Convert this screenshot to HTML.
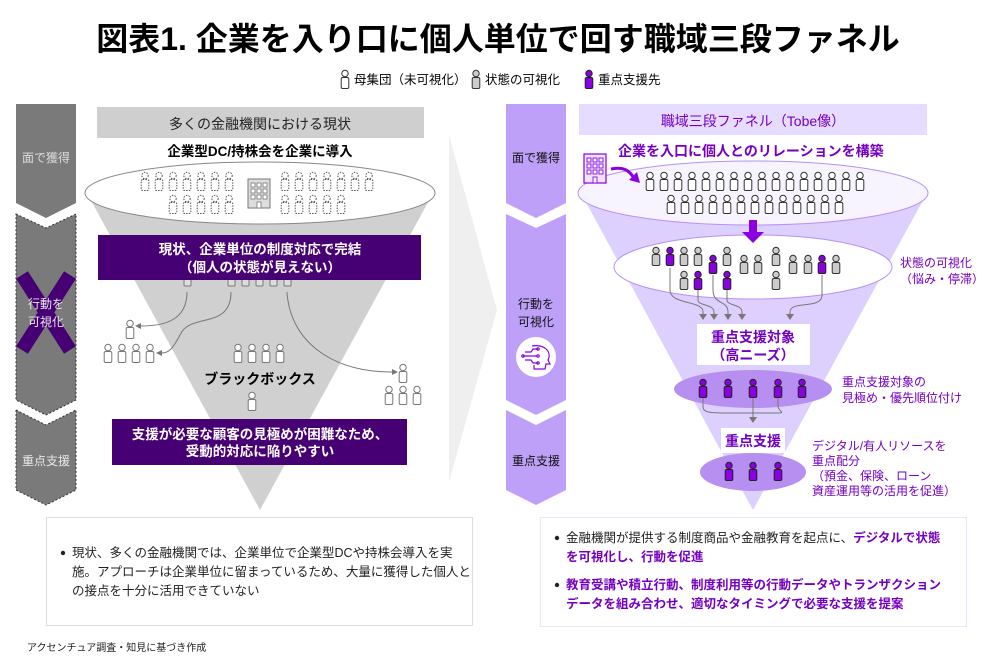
<!DOCTYPE html>
<html><head><meta charset="utf-8"><style>
body{margin:0;background:#fff;}
svg text{font-family:"Liberation Sans","Noto Sans CJK JP",sans-serif;}
</style></head><body>
<svg width="997" height="664" viewBox="0 0 997 664" xmlns="http://www.w3.org/2000/svg">
<defs>
<g id="pd"><circle cx="0" cy="3.5" r="3.2" fill="#fff" stroke="#555" stroke-width="1" stroke-dasharray="1.5 1.2"/><rect x="-3.8" y="7.5" width="7.6" height="11" rx="1.5" fill="#fff" stroke="#555" stroke-width="1" stroke-dasharray="1.5 1.2"/></g>
<g id="pw"><circle cx="0" cy="3.5" r="3.2" fill="#fff" stroke="#333" stroke-width="1"/><rect x="-3.8" y="7.5" width="7.6" height="11" rx="1.5" fill="#fff" stroke="#333" stroke-width="1"/></g>
<g id="pl"><circle cx="0" cy="3.5" r="3.2" fill="#fff" stroke="#777" stroke-width="1"/><rect x="-3.8" y="7.5" width="7.6" height="11" rx="1.5" fill="#fff" stroke="#777" stroke-width="1"/></g>
<g id="pg"><circle cx="0" cy="3.5" r="3.2" fill="#ccc" stroke="#333" stroke-width="1"/><rect x="-3.8" y="7.5" width="7.6" height="11" rx="1.5" fill="#ccc" stroke="#333" stroke-width="1"/></g>
<g id="pp"><circle cx="0" cy="3.5" r="3.2" fill="#8a00e0" stroke="#222" stroke-width="1"/><rect x="-3.8" y="7.5" width="7.6" height="11" rx="1.5" fill="#8a00e0" stroke="#222" stroke-width="1"/></g>
<marker id="ag" markerWidth="8" markerHeight="8" refX="2" refY="4" orient="auto" markerUnits="userSpaceOnUse"><path d="M0,0 L6,4 L0,8z" fill="#777"/></marker>
</defs>

<text x="498" y="50" font-size="32" font-weight="bold" text-anchor="middle" fill="#000">図表1. 企業を入り口に個人単位で回す職域三段ファネル</text>
<g transform="translate(345,70)"><use href="#pw"/></g>
<text x="354" y="84" font-size="12.5" fill="#000">母集団（未可視化）</text>
<g transform="translate(476,70)"><use href="#pg"/></g>
<text x="485" y="84" font-size="12.5" fill="#000">状態の可視化</text>
<g transform="translate(589,70)"><use href="#pp"/></g>
<text x="598" y="84" font-size="12.5" fill="#000">重点支援先</text>

<path d="M449,135 L497,310 L449,482 Z" fill="#efefef"/>

<path d="M16,104 L76,104 L76,203 L46,218 L16,203 Z" fill="#7a7a7a"/>
<path d="M16,214 L46,228 L76,214 L76,400 L46,415 L16,400 Z" fill="#7a7a7a" stroke="#333" stroke-dasharray="2 2"/>
<path d="M16,410 L46,425 L76,410 L76,490 L46,505 L16,490 Z" fill="#7a7a7a" stroke="#333" stroke-dasharray="2 2"/>
<path d="M22,275 L70,350 M70,275 L22,350" stroke="#460073" stroke-width="14"/>
<text x="46" y="162" font-size="12" fill="#ddd" text-anchor="middle">面で獲得</text>
<text x="46" y="308" font-size="12" fill="#e8e8e8" text-anchor="middle">行動を</text>
<text x="46" y="326" font-size="12" fill="#e8e8e8" text-anchor="middle">可視化</text>
<text x="46" y="465" font-size="12" fill="#e8e8e8" text-anchor="middle">重点支援</text>

<rect x="97" y="107" width="327" height="31" fill="#cfcfcf"/>
<text x="260" y="129" font-size="14" text-anchor="middle" fill="#222">多くの金融機関における現状</text>
<text x="260" y="156" font-size="13.5" font-weight="bold" text-anchor="middle" fill="#000">企業型DC/持株会を企業に導入</text>

<path d="M88,195 L432,195 L260,510 Z" fill="#d0d0d0"/>
<ellipse cx="260" cy="193" rx="175" ry="31" fill="#fff" stroke="#888" stroke-width="1"/>
<g>
<use href="#pd" x="145" y="172"/><use href="#pd" x="159" y="172"/><use href="#pd" x="173" y="172"/><use href="#pd" x="187" y="172"/><use href="#pd" x="201" y="172"/><use href="#pd" x="215" y="172"/><use href="#pd" x="229" y="172"/>
<use href="#pd" x="285" y="172"/><use href="#pd" x="299" y="172"/><use href="#pd" x="313" y="172"/><use href="#pd" x="327" y="172"/><use href="#pd" x="341" y="172"/><use href="#pd" x="355" y="172"/><use href="#pd" x="369" y="172"/>
<use href="#pd" x="173" y="195"/><use href="#pd" x="187" y="195"/><use href="#pd" x="201" y="195"/><use href="#pd" x="215" y="195"/><use href="#pd" x="229" y="195"/>
<use href="#pd" x="285" y="195"/><use href="#pd" x="299" y="195"/><use href="#pd" x="313" y="195"/><use href="#pd" x="327" y="195"/><use href="#pd" x="341" y="195"/>
</g>
<g stroke="#777" fill="#ddd"><rect x="248" y="179" width="22" height="29"/>
<g fill="#fff" stroke="#777" stroke-width="0.8"><rect x="251" y="183" width="4" height="4"/><rect x="257" y="183" width="4" height="4"/><rect x="263" y="183" width="4" height="4"/><rect x="251" y="189" width="4" height="4"/><rect x="257" y="189" width="4" height="4"/><rect x="263" y="189" width="4" height="4"/><rect x="251" y="195" width="4" height="4"/><rect x="257" y="195" width="4" height="4"/><rect x="263" y="195" width="4" height="4"/><rect x="257" y="202" width="4" height="6"/></g></g>

<g fill="#ddd" stroke="#777"><rect x="184" y="276" width="7" height="10" rx="1"/><rect x="228" y="276" width="7" height="10" rx="1"/><rect x="242" y="276" width="7" height="10" rx="1"/><rect x="256" y="276" width="7" height="10" rx="1"/><rect x="270" y="276" width="7" height="10" rx="1"/><rect x="284" y="276" width="7" height="10" rx="1"/></g>
<g fill="none" stroke="#777" stroke-width="1">
<path d="M187,292 C187,320 165,326 141,326"/>
<path d="M231,292 C231,330 190,312 180,335 C172,350 168,353 162,353"/>
<path d="M287,292 C290,340 330,372 392,372"/>
</g>
<path d="M135,326 l6,-3 v6z" fill="#777"/><path d="M156,353 l6,-3 v6z" fill="#777"/><path d="M398,372 l-6,-3 v6z" fill="#777"/>
<g>
<use href="#pl" x="130" y="320"/>
<use href="#pl" x="108" y="344"/><use href="#pl" x="122" y="344"/><use href="#pl" x="136" y="344"/><use href="#pl" x="150" y="344"/>
<use href="#pl" x="238" y="344"/><use href="#pl" x="252" y="344"/><use href="#pl" x="266" y="344"/><use href="#pl" x="280" y="344"/>
<use href="#pl" x="403" y="364"/>
<use href="#pl" x="389" y="386"/><use href="#pl" x="403" y="386"/><use href="#pl" x="417" y="386"/>
<use href="#pl" x="252" y="392"/>
</g>
<rect x="98" y="235" width="323" height="45" fill="#460073"/>
<text x="260" y="254" font-size="13.5" font-weight="bold" text-anchor="middle" fill="#fff">現状、企業単位の制度対応で完結</text>
<text x="260" y="272" font-size="13.5" font-weight="bold" text-anchor="middle" fill="#fff">（個人の状態が見えない）</text>
<text x="260" y="384" font-size="14" font-weight="bold" text-anchor="middle" fill="#000">ブラックボックス</text>
<rect x="112" y="419" width="295" height="46" fill="#460073"/>
<text x="260" y="439" font-size="13.5" font-weight="bold" text-anchor="middle" fill="#fff">支援が必要な顧客の見極めが困難なため、</text>
<text x="260" y="456" font-size="13.5" font-weight="bold" text-anchor="middle" fill="#fff">受動的対応に陥りやすい</text>

<path d="M506,104 L566,104 L566,203 L536,218 L506,203 Z" fill="#bea0f8"/>
<path d="M506,214 L536,228 L566,214 L566,400 L536,415 L506,400 Z" fill="#bea0f8"/>
<path d="M506,410 L536,425 L566,410 L566,490 L536,505 L506,490 Z" fill="#bea0f8"/>
<text x="536" y="162" font-size="12" fill="#111" text-anchor="middle">面で獲得</text>
<text x="536" y="308" font-size="12" fill="#111" text-anchor="middle">行動を</text>
<text x="536" y="326" font-size="12" fill="#111" text-anchor="middle">可視化</text>
<text x="536" y="465" font-size="12" fill="#111" text-anchor="middle">重点支援</text>
<circle cx="536" cy="357" r="20" fill="#fff"/>
<g fill="none" stroke="#8a00e0" stroke-width="1.2"><path d="M532,346 C545,344 552,352 548,360 L550,364 L546,364 L545,369 L534,369 L534,365"/><path d="M523,356 H537 M525,352 L531,352 L533,349 H538 M525,360 H531 L533,363 H538"/><circle cx="523" cy="356" r="1.2"/><circle cx="538" cy="349" r="1.2"/><circle cx="538" cy="356" r="1.2"/><circle cx="538" cy="363" r="1.2"/></g>

<rect x="579" y="104" width="348" height="31" fill="#e6dcff"/>
<text x="753" y="126" font-size="14" text-anchor="middle" fill="#7500c0">職域三段ファネル（Tobe像）</text>
<text x="618" y="156" font-size="14" font-weight="bold" fill="#7500c0">企業を入口に個人とのリレーションを構築</text>

<path d="M582,195 L926,195 L753,510 Z" fill="#ddd0ff"/>
<ellipse cx="753" cy="193" rx="175" ry="32" fill="#f7f3ff" stroke="#b690f5" stroke-width="1"/>
<g stroke="#8a00e0" fill="#eee4ff" stroke-width="1.2"><rect x="584" y="154" width="22" height="29"/>
<g fill="#fff" stroke-width="0.9"><rect x="587" y="158" width="4" height="4"/><rect x="593" y="158" width="4" height="4"/><rect x="599" y="158" width="4" height="4"/><rect x="587" y="164" width="4" height="4"/><rect x="593" y="164" width="4" height="4"/><rect x="599" y="164" width="4" height="4"/><rect x="587" y="170" width="4" height="4"/><rect x="593" y="170" width="4" height="4"/><rect x="599" y="170" width="4" height="4"/><rect x="593" y="177" width="4" height="6"/></g></g>
<path d="M611,169 C625,166 630,172 634,178" fill="none" stroke="#8a00e0" stroke-width="3"/><path d="M629,180 L640,183 L637,172 Z" fill="#8a00e0"/>
<g>
<use href="#pw" x="650" y="172"/><use href="#pw" x="664" y="172"/><use href="#pw" x="678" y="172"/><use href="#pw" x="692" y="172"/><use href="#pw" x="706" y="172"/><use href="#pw" x="720" y="172"/><use href="#pw" x="734" y="172"/><use href="#pw" x="748" y="172"/><use href="#pw" x="762" y="172"/><use href="#pw" x="776" y="172"/><use href="#pw" x="790" y="172"/><use href="#pw" x="804" y="172"/><use href="#pw" x="818" y="172"/><use href="#pw" x="832" y="172"/><use href="#pw" x="846" y="172"/><use href="#pw" x="860" y="172"/>
<use href="#pw" x="671" y="195"/><use href="#pw" x="685" y="195"/><use href="#pw" x="699" y="195"/><use href="#pw" x="713" y="195"/><use href="#pw" x="727" y="195"/><use href="#pw" x="741" y="195"/><use href="#pw" x="755" y="195"/><use href="#pw" x="769" y="195"/><use href="#pw" x="783" y="195"/><use href="#pw" x="797" y="195"/><use href="#pw" x="811" y="195"/><use href="#pw" x="825" y="195"/><use href="#pw" x="839" y="195"/>
</g>
<ellipse cx="753" cy="267" rx="139" ry="32" fill="#fff" stroke="#b690f5" stroke-width="1"/>
<path d="M749,220 H757 V232 H764 L753,243 L742,232 H749 Z" fill="#8a00e0"/>
<g fill="none" stroke="#777" stroke-width="1">
<path d="M670,268 V290 C670,305 703,300 703,312 V316" marker-end="url(#ag)"/>
<path d="M698,290 V300 C698,306 714,304 714,312 V316" marker-end="url(#ag)"/>
<path d="M713,275 V290 C713,305 728,300 728,312 V316" marker-end="url(#ag)"/>
<path d="M727,290 V300 C727,306 742,304 742,312 V316" marker-end="url(#ag)"/>
<path d="M822,275 V295 C822,310 790,300 790,312 V316" marker-end="url(#ag)"/>
</g>
<g>
<use href="#pg" x="656" y="247"/><use href="#pp" x="670" y="247"/><use href="#pg" x="684" y="247"/><use href="#pg" x="698" y="247"/>
<use href="#pp" x="713" y="255"/><use href="#pg" x="727" y="247"/><use href="#pg" x="744" y="255"/><use href="#pg" x="758" y="255"/>
<use href="#pg" x="776" y="247"/><use href="#pg" x="793" y="255"/><use href="#pg" x="808" y="255"/><use href="#pp" x="822" y="255"/><use href="#pg" x="836" y="255"/>
<use href="#pg" x="684" y="271"/><use href="#pp" x="698" y="271"/><use href="#pp" x="727" y="271"/><use href="#pg" x="776" y="271"/>
</g>
<text x="900" y="267" font-size="12" fill="#7500c0">状態の可視化</text>
<text x="900" y="283" font-size="12" fill="#7500c0">（悩み・停滞）</text>

<rect x="697" y="324" width="113" height="41" fill="#fff"/>
<text x="753" y="342" font-size="14" font-weight="bold" text-anchor="middle" fill="#7500c0">重点支援対象</text>
<text x="753" y="360" font-size="14" font-weight="bold" text-anchor="middle" fill="#7500c0">（高ニーズ）</text>
<ellipse cx="753" cy="389" rx="79" ry="19" fill="#b68ff0"/>
<g><use href="#pp" x="703" y="379"/><use href="#pp" x="728" y="379"/><use href="#pp" x="753" y="379"/><use href="#pp" x="778" y="379"/><use href="#pp" x="802" y="379"/></g>
<g fill="none" stroke="#777" stroke-width="1"><path d="M703,398 V406 C703,414 710,413 753,413 C796,413 778,414 778,406 V398"/><path d="M753,398 V419" marker-end="url(#ag)"/></g>
<text x="842" y="386" font-size="12" fill="#7500c0">重点支援対象の</text>
<text x="842" y="402" font-size="12" fill="#7500c0">見極め・優先順位付け</text>
<rect x="721" y="428" width="64" height="25" fill="#fff"/>
<text x="753" y="446" font-size="14" font-weight="bold" text-anchor="middle" fill="#7500c0">重点支援</text>
<ellipse cx="753" cy="472" rx="53" ry="19" fill="#b68ff0"/>
<g><use href="#pp" x="729" y="462"/><use href="#pp" x="753" y="462"/><use href="#pp" x="778" y="462"/></g>
<text x="812" y="450" font-size="12" fill="#7500c0">デジタル/有人リソースを</text>
<text x="812" y="465" font-size="12" fill="#7500c0">重点配分</text>
<text x="812" y="480" font-size="12" fill="#7500c0">（預金、保険、ローン</text>
<text x="812" y="495" font-size="12" fill="#7500c0">資産運用等の活用を促進）</text>

<rect x="46.5" y="517.5" width="426" height="108" fill="#fff" stroke="#ddd"/>
<circle cx="63" cy="553" r="2.2" fill="#222"/>
<text x="72" y="557" font-size="12.5" fill="#222">現状、多くの金融機関では、企業単位で企業型DCや持株会導入を実</text>
<text x="72" y="576" font-size="12.5" fill="#222">施。アプローチは企業単位に留まっているため、大量に獲得した個人と</text>
<text x="72" y="595" font-size="12.5" fill="#222">の接点を十分に活用できていない</text>
<rect x="540.5" y="517.5" width="426" height="109" fill="#fff" stroke="#ebe3ff"/>
<circle cx="557" cy="538" r="2.2" fill="#222"/>
<text x="566" y="542" font-size="12.5" fill="#222">金融機関が提供する制度商品や金融教育を起点に、<tspan fill="#7500c0" font-weight="bold">デジタルで状態</tspan></text>
<text x="566" y="561" font-size="12.5" fill="#7500c0" font-weight="bold">を可視化し、行動を促進</text>
<circle cx="557" cy="585" r="2.2" fill="#222"/>
<text x="566" y="589" font-size="12.5" fill="#7500c0" font-weight="bold">教育受講や積立行動、制度利用等の行動データやトランザクション</text>
<text x="566" y="608" font-size="12.5" fill="#7500c0" font-weight="bold">データを組み合わせ、適切なタイミングで必要な支援を提案</text>
<text x="27" y="651" font-size="10" fill="#222">アクセンチュア調査・知見に基づき作成</text>
</svg>
</body></html>
